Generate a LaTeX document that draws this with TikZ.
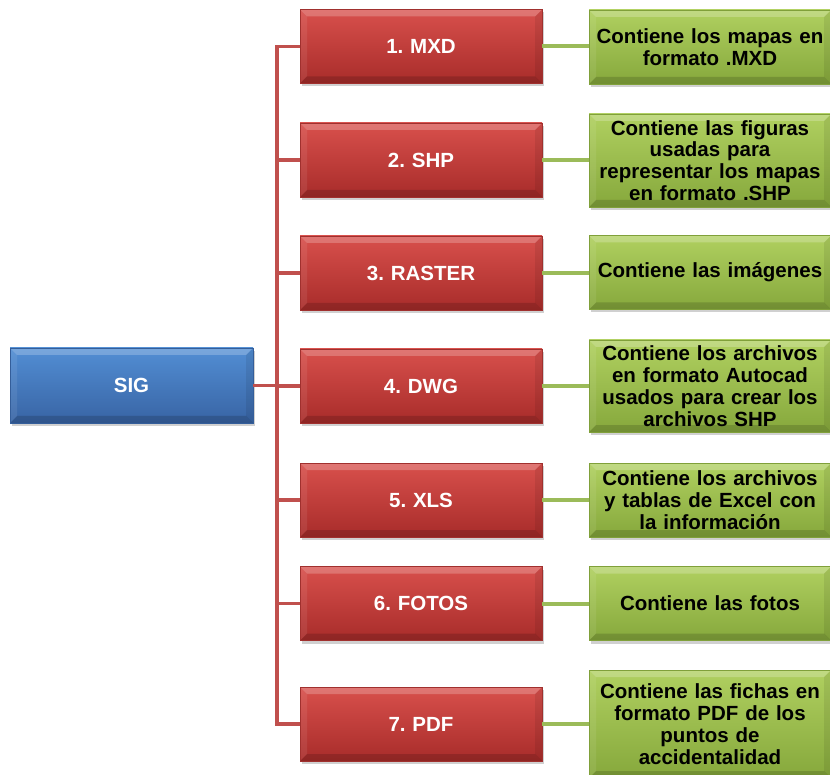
\documentclass[tikz,border=0pt]{standalone}
\usepackage{fontspec}
\setmainfont{Liberation Sans}
\frenchspacing
\usetikzlibrary{shadows}
\definecolor{redT}{RGB}{216,80,76}
\definecolor{redB}{RGB}{168,44,42}
\definecolor{redE}{RGB}{160,48,46}
\definecolor{redL}{RGB}{192,80,77}
\definecolor{grnT}{RGB}{176,208,96}
\definecolor{grnB}{RGB}{134,168,60}
\definecolor{grnE}{RGB}{128,160,58}
\definecolor{grnL}{RGB}{155,187,89}
\definecolor{bluT}{RGB}{82,142,212}
\definecolor{bluB}{RGB}{56,100,164}
\definecolor{bluE}{RGB}{52,94,154}
\tikzset{
  bevel/.style={path picture={
    \fill[white,opacity=.22] (path picture bounding box.north west) -- (path picture bounding box.north east)
      -- ([shift={(-7,7)}]path picture bounding box.north east) -- ([shift={(7,7)}]path picture bounding box.north west) -- cycle;
    \fill[white,opacity=.08] (path picture bounding box.north west) -- ([shift={(7,7)}]path picture bounding box.north west)
      -- ([shift={(7,-7)}]path picture bounding box.south west) -- (path picture bounding box.south west) -- cycle;
    \fill[black,opacity=.08] (path picture bounding box.north east) -- ([shift={(-7,7)}]path picture bounding box.north east)
      -- ([shift={(-7,-7)}]path picture bounding box.south east) -- (path picture bounding box.south east) -- cycle;
    \fill[black,opacity=.15] (path picture bounding box.south west) -- (path picture bounding box.south east)
      -- ([shift={(-7,-7)}]path picture bounding box.south east) -- ([shift={(7,-7)}]path picture bounding box.south west) -- cycle;
  }},
  box/.style={rectangle, bevel, inner xsep=3pt, inner ysep=0pt, text width=236pt, align=center,
    font=\fontsize{20}{22}\selectfont\bfseries, line width=0.5pt,
    drop shadow={shadow xshift=1.5pt, shadow yshift=-3pt, opacity=0.3, fill=black!60}},
  redbox/.style={box, top color=redT, bottom color=redB, draw=redE, text=white, minimum height=74pt,
    font=\fontsize{20.5}{22}\selectfont\bfseries},
  grnbox/.style={box, top color=grnT, bottom color=grnB, draw=grnE, text=black,
    font=\fontsize{20.5}{21.8}\selectfont\bfseries},
  blubox/.style={box, top color=bluT, bottom color=bluB, draw=bluE, text=white, text width=237pt, minimum height=75pt,
    font=\fontsize{20.5}{22}\selectfont\bfseries},
  redline/.style={draw=redL, line width=3.5pt},
  grnline/.style={draw=grnL, line width=4pt},
}
\begin{document}
\begin{tikzpicture}[x=1pt,y=-1pt]
\useasboundingbox (0,0) rectangle (830,775);
\fill[white] (0,0) rectangle (830,775);
\coordinate (tk) at (277,0);
\node[blubox] (sig) at (131.5,385.5) {SIG};
\node[redbox] (r1) at (421,46.5) {1. MXD};
\node[redbox] (r2) at (421,160) {2. SHP};
\node[redbox] (r3) at (421,273) {3. RASTER};
\node[redbox] (r4) at (421,386) {4. DWG};
\node[redbox] (r5) at (421,500) {5. XLS};
\node[redbox] (r6) at (421,603.5) {6. FOTOS};
\node[redbox] (r7) at (421,724) {7. PDF};
\node[grnbox, minimum height=74pt] (g1) at (710,47) {Contiene los mapas en\\formato .MXD};
\node[grnbox, minimum height=93pt] (g2) at (710,160.5) {Contiene las figuras\\usadas para\\representar los mapas\\en formato .SHP};
\node[grnbox, minimum height=74pt] (g3) at (710,272.5) {Contiene las imágenes};
\node[grnbox, minimum height=92pt] (g4) at (710,386) {Contiene los archivos\\en formato Autocad\\usados para crear los\\archivos SHP};
\node[grnbox, minimum height=74pt] (g5) at (710,500) {Contiene los archivos\\y tablas de Excel con\\la información};
\node[grnbox, minimum height=74pt] (g6) at (710,603.5) {Contiene las fotos};
\node[grnbox, minimum height=108pt] (g7) at (710,724) {Contiene las fichas en\\formato PDF de los\\puntos de\\accidentalidad};
\draw[redline] (r1.west) -- (r1.west -| tk) -- (r7.west -| tk) -- (r7.west);
\draw[redline] (sig.east) -- (sig.east -| tk);
\foreach \n in {r2,r3,r4,r5,r6} \draw[redline] (\n.west) -- (\n.west -| tk);
\draw[grnline] (r1.east) -- (r1.east -| g1.west);
\draw[grnline] (r2.east) -- (r2.east -| g2.west);
\draw[grnline] (r3.east) -- (r3.east -| g3.west);
\draw[grnline] (r4.east) -- (r4.east -| g4.west);
\draw[grnline] (r5.east) -- (r5.east -| g5.west);
\draw[grnline] (r6.east) -- (r6.east -| g6.west);
\draw[grnline] (r7.east) -- (r7.east -| g7.west);
\end{tikzpicture}
\end{document}
